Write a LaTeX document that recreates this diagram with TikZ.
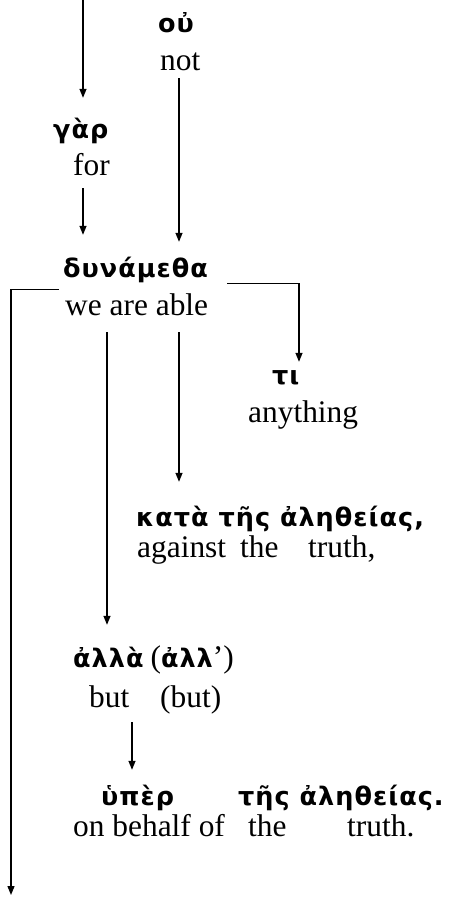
\documentclass[tikz,border=0pt]{standalone}
\usepackage{fontspec}
\setmainfont{Liberation Serif}
\newfontfamily\grk[LetterSpace=4]{DejaVu Sans}
\usetikzlibrary{arrows.meta,calc}
\newcommand{\enpar}[1]{{\rmfamily\mdseries\fontsize{31.4}{36}\selectfont #1}}
\begin{document}
\begin{tikzpicture}[x=1pt,y=-1pt,
  en/.style={inner sep=0pt, anchor=base west, text height=21pt, text depth=7pt,
    font=\fontsize{31.4}{36}\selectfont},
  gr/.style={inner sep=0pt, anchor=base west, text height=20pt, text depth=5pt,
    font=\grk\bfseries\fontsize{25.5}{30}\selectfont},
  con/.style={line width=1.3pt},
  arr/.style={con, -{Triangle[length=9pt,width=7pt]}}]
\useasboundingbox (0,0) rectangle (452,898);
% columns
\coordinate (colA) at (83,0);
\coordinate (colB) at (179,0);
\coordinate (colE) at (299,0);
\coordinate (colG) at (107,0);
\coordinate (colH) at (132,0);
\coordinate (bottom) at (11,895);
% words
\node[gr] (ou) at (158,32) {οὐ};
\node[en] (not) at (160,70) {not};
\node[gr] (gar) at (53,138) {γὰρ};
\node[en] (for) at (73,175) {for};
\node[gr] (dun) at (63,277) {δυνάμεθα};
\node[en] (able) at (65,315) {we are able};
\node[gr] (ti) at (272,384) {τι};
\node[en] (anything) at (248,422) {anything};
\node[gr] (kata) at (136,526) {κατὰ τῆς ἀληθείας,};
\node[en] (against) at (137,557) {\makebox[103pt][l]{against}\makebox[68pt][l]{the}truth,};
\node[gr] (alla) at (73,667) {ἀλλὰ\hspace{7pt}\enpar{(}ἀλλ\enpar{’)}};
\node[en] (but) at (89,707) {\makebox[71pt][l]{but}(but)};
\node[gr] (uper) at (101,805) {\makebox[137pt][l]{ὑπὲρ}τῆς ἀληθείας.};
\node[en] (behalf) at (73,836) {\makebox[175pt][l]{on behalf of}\makebox[99pt][l]{the}truth.};
% connectors
\draw[arr, shorten >=20pt] (colA) -- (colA |- gar.north);
\draw[arr, shorten <=6pt, shorten >=22pt] (for.south -| colA) -- (dun.north -| colA);
\draw[arr, shorten <=1pt, shorten >=15pt] (not.south -| colB) -- (dun.north -| colB);
\draw[arr] ([shift={(-6,-4)}]able.north west) -| (bottom);
\draw[arr, shorten >=2pt] ([shift={(19,-10)}]able.north east) -| (ti.north -| colE);
\draw[arr, shorten <=10pt, shorten >=24pt] (able.south -| colB) -- (kata.north -| colB);
\draw[arr, shorten <=10pt, shorten >=22pt] (able.south -| colG) -- (alla.north -| colG);
\draw[arr, shorten <=8pt, shorten >=15pt] (but.south -| colH) -- (uper.north -| colH);
\end{tikzpicture}
\end{document}
